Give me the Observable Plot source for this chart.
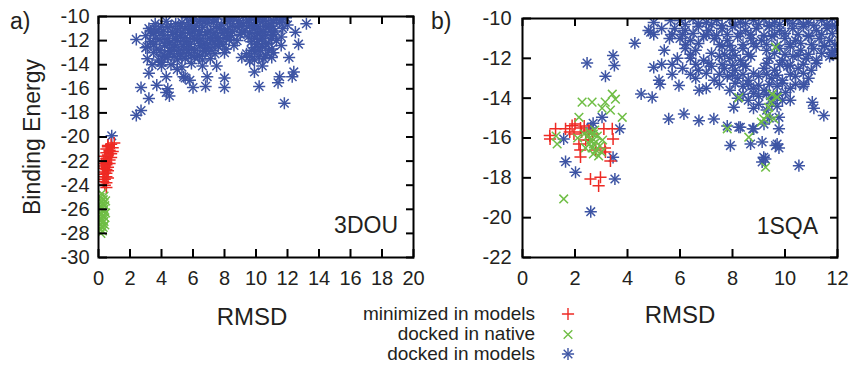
<!DOCTYPE html>
<html><head><meta charset="utf-8">
<script src="https://cdn.jsdelivr.net/npm/d3@7"></script>
<script src="https://cdn.jsdelivr.net/npm/@observablehq/plot@0.6"></script>
<style>
body{margin:0;background:#fff;}
#wrap{position:relative;width:852px;height:369px;font-family:"Liberation Sans",Arial,sans-serif;color:#231f20;}
#wrap > svg{position:absolute;top:0;}
.t{position:absolute;white-space:nowrap;line-height:1;}
</style></head><body><div id="wrap"></div>
<script>
const RED = "#ee2a24", GREEN = "#6fbe45", BLUE = "#3d54a4", INK = "#231f20";

// ---- panel a) 3DOU ----
const aXTicks = [0,2,4,6,8,10,12,14,16,18,20];
const aYTicks = [-30,-28,-26,-24,-22,-20,-18,-16,-14,-12,-10];
const aRed = [[1.0,-20.5],[0.8,-20.6],[0.6,-20.7],[0.9,-20.9],[0.5,-21.0],[0.7,-21.1],[0.9,-21.2],[0.5,-21.3],[0.8,-21.4],[0.6,-21.5],[0.4,-21.6],[0.8,-21.7],[0.5,-21.8],[0.7,-21.9],[0.3,-22.0],[0.5,-22.1],[0.7,-22.2],[0.5,-22.3],[0.4,-22.4],[0.6,-22.5],[0.3,-22.6],[0.5,-22.7],[0.6,-22.8],[0.4,-22.9],[0.5,-23.0],[0.3,-23.1],[0.5,-23.3],[0.6,-23.4],[0.4,-23.5],[0.3,-23.7],[0.5,-23.8],[0.4,-24.0],[0.5,-24.2],[0.2,-22.2],[0.7,-21.2],[0.6,-20.8],[0.3,-23.3]];
const aGreen = [[0.2,-24.7],[0.35,-24.9],[0.1,-25.0],[0.3,-25.2],[0.45,-25.3],[0.15,-25.4],[0.3,-25.5],[0.05,-25.6],[0.4,-25.7],[0.2,-25.8],[0.1,-25.9],[0.35,-26.0],[0.25,-26.1],[0.0,-26.2],[0.45,-26.3],[0.15,-26.4],[0.3,-26.5],[0.05,-26.6],[0.4,-26.7],[0.2,-26.8],[0.1,-26.9],[0.35,-27.0],[0.25,-27.1],[0.1,-27.2],[0.4,-27.3],[0.2,-27.4],[0.3,-27.5],[0.1,-27.6],[0.25,-27.8],[0.15,-28.0]];
const aBlue = [[0.84,-19.9],[2.4,-11.9],[2.4,-18.2],[2.7,-17.8],[3.2,-16.8],[2.7,-15.9],[4.5,-16.6],[4.4,-16.0],[6.0,-15.9],[6.8,-15.8],[8.0,-15.1],[8.0,-15.9],[10.2,-15.8],[11.8,-17.2],[12.1,-13.4],[12.4,-14.6],[12.3,-15.0],[11.5,-15.0],[11.4,-15.5],[12.7,-12.3],[13.2,-10.6],[12.5,-11.3],[9.9,-14.6],[10.4,-14.1],[9.6,-13.7],[7.5,-14.1],[6.9,-15.0],[5.8,-15.3],[5.4,-15.0],[5.0,-14.4],[4.0,-14.1],[3.7,-15.7],[4.3,-16.3],[3.1,-13.5],[3.4,-14.0],[4.0,-13.8],[4.3,-15.0],[3.2,-14.7],[5.5,-15.1],[3.0,-12.6],[3.3,-11.2],
[5.6,-10.1],[6.1,-10.0],[6.5,-10.2],[7.0,-10.1],[7.6,-10.0],[8.1,-10.2],[8.6,-10.1],[9.2,-10.0],[9.7,-10.2],[10.2,-10.1],[10.8,-10.0],[11.3,-10.2],[11.9,-10.1],
[3.6,-10.6],[4.3,-10.4],[4.9,-10.6],[5.3,-10.5],[5.9,-10.7],[6.4,-10.4],[6.9,-10.6],[7.3,-10.5],[7.8,-10.7],[8.3,-10.4],[8.9,-10.6],[9.4,-10.5],[9.9,-10.7],[10.4,-10.4],[10.9,-10.6],[11.5,-10.5],[12.0,-10.7],
[3.2,-11.0],[3.8,-11.1],[4.4,-10.9],[5.0,-11.2],[5.5,-11.0],[6.1,-11.1],[6.6,-10.9],[7.1,-11.2],[7.7,-11.0],[8.2,-11.1],[8.8,-10.9],[9.3,-11.2],[9.8,-11.0],[10.3,-11.1],[10.8,-10.9],[11.2,-11.2],[11.7,-11.0],
[3.0,-11.6],[3.5,-11.4],[4.1,-11.6],[4.7,-11.5],[5.2,-11.7],[5.8,-11.4],[6.3,-11.6],[6.8,-11.5],[7.4,-11.7],[7.9,-11.4],[8.4,-11.6],[9.0,-11.5],[9.5,-11.7],[10.1,-11.4],[10.6,-11.6],[11.1,-11.5],[11.6,-11.7],
[3.3,-12.1],[3.9,-11.9],[4.5,-12.2],[5.0,-12.0],[5.6,-12.1],[6.1,-11.9],[6.7,-12.2],[7.2,-12.0],[7.7,-12.1],[8.3,-11.9],[9.7,-12.1],[10.2,-11.9],[10.8,-12.2],[11.3,-12.0],[8.8,-12.0],
[3.1,-12.5],[3.7,-12.7],[4.2,-12.4],[4.8,-12.6],[5.4,-12.5],[5.9,-12.7],[6.5,-12.4],[7.0,-12.6],[7.6,-12.5],[8.1,-12.7],[8.6,-12.4],[9.9,-12.6],[10.4,-12.5],[11.0,-12.7],[11.6,-12.4],
[3.5,-13.0],[4.1,-13.2],[4.6,-12.9],[5.2,-13.1],[5.7,-13.0],[6.3,-13.2],[6.8,-12.9],[7.4,-13.1],[8.0,-13.0],[9.4,-13.1],[10.0,-12.9],[10.6,-13.2],[11.1,-13.0],
[3.8,-13.6],[4.4,-13.4],[5.0,-13.6],[5.5,-13.5],[6.1,-13.4],[6.6,-13.6],[7.1,-13.5],[9.1,-13.4],[9.9,-13.6],[10.5,-13.5],[11.0,-13.4],
[4.6,-14.0],[5.3,-14.2],[5.9,-13.9],[6.6,-14.1],
[5.9,-10.3],[6.8,-10.3],[7.3,-10.25],[8.4,-10.3],[8.9,-10.35],[9.5,-10.3],[10.0,-10.25],[10.5,-10.3],[11.1,-10.35],[11.6,-10.3],
[4.0,-10.8],[4.6,-10.8],[5.2,-10.85],[5.7,-10.8],[6.2,-10.75],[7.5,-10.8],[8.5,-10.85],[9.1,-10.8],[9.6,-10.75],[10.1,-10.8],[10.6,-10.85],[11.0,-10.8],
[3.5,-11.3],[4.1,-11.25],[4.7,-11.3],[5.3,-11.35],[5.8,-11.3],[6.4,-11.25],[6.9,-11.3],[7.4,-11.35],[8.0,-11.3],[8.5,-11.25],[9.1,-11.3],[9.6,-11.35],[10.0,-11.3],[10.5,-11.25],[11.0,-11.3],
[3.6,-11.8],[4.4,-11.85],[4.9,-11.8],[5.5,-11.75],[6.0,-11.8],[6.5,-11.85],[7.1,-11.8],[7.6,-11.75],[8.1,-11.8],[9.9,-11.8],[10.4,-11.85],[11.0,-11.8],
[3.5,-12.3],[4.2,-12.25],[4.8,-12.3],[5.3,-12.35],[5.8,-12.3],[6.4,-12.25],[6.9,-12.3],[7.4,-12.35],[7.9,-12.3],[10.1,-12.3],[10.6,-12.25],
[3.9,-12.8],[4.5,-12.85],[5.1,-12.8],[5.6,-12.75],[6.1,-12.8],[6.7,-12.85],[7.2,-12.8],[9.7,-12.8],[10.3,-12.85],[10.8,-12.8],
[4.2,-13.3],[4.8,-13.35],[5.3,-13.3],[5.9,-13.25],[6.4,-13.3],[9.6,-13.3],[10.2,-13.35]];

// ---- panel b) 1SQA ----
const bXTicks = [0,2,4,6,8,10,12];
const bYTicks = [-22,-20,-18,-16,-14,-12,-10];
const bRed = [[1.04,-15.88],[1.05,-16.05],[1.26,-15.54],[1.64,-15.54],[1.89,-15.38],[1.96,-15.8],[2.21,-15.5],[2.25,-15.7],[2.15,-16.3],[2.2,-16.6],[2.21,-16.95],[2.53,-15.6],[2.53,-16.1],[2.66,-15.8],[3.1,-15.54],[3.42,-15.54],[3.45,-16.05],[3.14,-16.5],[3.16,-16.7],[3.35,-17.15],[2.59,-18.06],[2.97,-17.97],[2.9,-18.4],[2.79,-16.6],[2.41,-16.1],[1.8,-15.7],[2.0,-15.3],[2.35,-15.4]];
const bGreen = [[1.57,-19.06],[1.32,-16.3],[1.28,-15.9],[2.15,-14.96],[2.27,-14.2],[2.65,-14.2],[3.15,-14.2],[3.42,-13.8],[3.54,-14.05],[3.35,-14.6],[3.03,-14.5],[3.8,-14.96],[2.1,-16.0],[2.5,-15.9],[2.7,-16.3],[2.4,-16.5],[2.55,-15.7],[2.7,-15.8],[2.85,-15.9],[2.6,-16.1],[2.8,-16.2],[2.95,-16.4],[2.65,-16.5],[2.8,-16.6],[3.0,-16.7],[2.7,-16.8],[2.9,-16.9],[2.55,-16.3],[3.05,-16.1],[2.75,-15.6],[2.35,-15.8],
[9.51,-13.8],[9.7,-13.95],[9.38,-14.46],[9.33,-14.87],[9.19,-15.04],[9.58,-15.04],[8.62,-15.96],[9.26,-17.47],[9.64,-11.44],[7.8,-15.54],[8.24,-13.97],[9.45,-14.2],[9.1,-15.2]];
const bBlue = [[1.64,-17.19],[1.57,-16.05],[2.02,-17.72],[2.46,-12.24],[3.16,-12.9],[3.45,-11.86],[3.5,-12.36],[3.03,-14.96],[2.69,-15.26],[2.6,-15.5],[3.7,-15.54],[3.45,-16.97],[3.52,-18.06],[2.6,-19.7],[4.28,-11.24],[4.52,-13.79],[4.94,-13.96],[5.2,-13.1],[4.88,-10.69],[4.8,-10.6],[5.0,-10.8],[5.0,-12.45],[5.24,-13.3],[5.3,-12.3],[5.57,-15.04],[5.7,-12.3],[5.64,-10.1],[5.7,-10.8],[5.96,-13.37],[6.15,-14.79],[6.72,-15.13],[6.73,-13.6],[7.29,-15.04],[7.8,-15.4],[8.24,-15.46],[7.92,-16.38],[8.05,-14.46],[8.69,-16.3],[8.77,-15.54],[9.13,-16.2],[9.19,-16.97],[9.13,-17.2],[9.25,-17.05],[9.7,-16.3],[9.77,-16.5],[10.53,-17.39],[9.77,-15.54],[9.77,-14.96],[11.04,-14.2],[11.1,-14.5],[11.48,-14.87],[10.72,-13.3],[10.02,-13.72],[11.8,-11.7],[11.8,-10.35],[9.64,-16.38],[8.81,-15.54],[8.3,-15.46],[10.2,-14.1],[10.7,-13.4],
[6.0,-10.1],[6.5,-10.0],[7.0,-10.2],[7.4,-10.1],[7.9,-10.0],[8.3,-10.2],[8.8,-10.1],[9.2,-10.0],[9.6,-10.2],[10.1,-10.1],[10.5,-10.0],[10.9,-10.2],[11.4,-10.1],[11.8,-10.0],
[5.8,-10.5],[6.2,-10.6],[6.7,-10.4],[7.1,-10.6],[7.6,-10.5],[8.0,-10.4],[8.5,-10.6],[8.9,-10.5],[9.4,-10.4],[9.8,-10.6],[10.3,-10.5],[10.7,-10.4],[11.2,-10.6],[11.6,-10.5],[11.95,-10.4],
[6.0,-11.0],[6.4,-11.1],[6.9,-10.9],[7.3,-11.0],[7.8,-11.1],[8.2,-10.9],[8.7,-11.0],[9.1,-11.1],[9.5,-10.9],[10.0,-11.0],[10.4,-11.1],[10.9,-10.9],[11.3,-11.0],[11.7,-11.1],
[6.2,-11.5],[6.6,-11.6],[7.6,-11.4],[8.0,-11.6],[8.4,-11.5],[8.9,-11.4],[9.3,-11.6],[9.8,-11.5],[10.2,-11.4],[10.6,-11.6],[11.1,-11.5],[11.5,-11.4],[11.9,-11.6],
[6.4,-12.0],[6.9,-12.1],[7.5,-11.9],[7.9,-12.0],[8.3,-12.1],[8.7,-11.9],[9.4,-12.0],[9.9,-12.1],[10.3,-11.9],[10.8,-12.0],[11.2,-12.1],[11.7,-11.9],
[6.1,-12.5],[6.7,-12.6],[7.2,-12.4],[7.7,-12.5],[8.1,-12.6],[8.5,-12.4],[9.2,-12.5],[9.6,-12.6],[10.1,-12.4],[10.5,-12.5],[11.0,-12.6],
[6.6,-13.0],[7.3,-13.1],[7.8,-12.9],[8.2,-13.0],[8.6,-13.1],[9.0,-12.9],[9.5,-13.0],[9.9,-13.1],[10.4,-12.9],[10.9,-13.0],
[7.0,-13.5],[7.9,-13.6],[8.4,-13.4],[8.8,-13.5],[9.2,-13.6],[9.7,-13.4],[10.2,-13.5],
[8.2,-14.0],[8.6,-14.1],[9.0,-13.9],[9.5,-14.0],[9.9,-14.1],
[8.8,-14.5],[9.3,-14.6],[9.7,-14.4],[9.4,-15.0],[9.2,-15.3],
[5.0,-10.2],[5.3,-10.5],[5.6,-11.0],[5.4,-11.6],[5.9,-12.0],[5.7,-12.8],
[6.2,-10.3],[6.7,-10.25],[7.2,-10.3],[7.6,-10.35],[8.1,-10.3],[8.5,-10.25],[9.0,-10.3],[9.4,-10.35],[9.8,-10.3],[10.3,-10.25],[10.7,-10.3],[11.1,-10.35],[11.6,-10.3],
[6.1,-10.8],[6.5,-10.75],[7.0,-10.8],[7.4,-10.85],[7.8,-10.8],[8.3,-10.75],[8.7,-10.8],[9.2,-10.85],[9.6,-10.8],[10.0,-10.75],[10.5,-10.8],[10.9,-10.85],[11.4,-10.8],[11.8,-10.75],
[6.2,-11.3],[6.7,-11.25],[7.5,-11.3],[7.9,-11.35],[8.4,-11.3],[8.8,-11.25],[9.3,-11.3],[9.7,-11.35],[10.2,-11.3],[10.6,-11.25],[11.0,-11.3],[11.5,-11.35],[11.9,-11.3],
[6.4,-11.8],[7.2,-11.75],[7.7,-11.8],[8.1,-11.85],[8.6,-11.8],[9.6,-11.75],[10.0,-11.8],[10.5,-11.85],[10.9,-11.8],[11.4,-11.75],[11.8,-11.8],
[6.6,-12.3],[7.1,-12.25],[7.6,-12.3],[8.0,-12.35],[8.4,-12.3],[9.3,-12.25],[9.8,-12.3],[10.2,-12.35],[10.7,-12.3],[11.2,-12.25],
[6.4,-12.8],[7.0,-12.75],[7.5,-12.8],[8.0,-12.85],[8.4,-12.8],[8.8,-12.75],[9.3,-12.8],[9.7,-12.85],[10.2,-12.8],[10.7,-12.75],
[7.5,-13.3],[8.1,-13.25],[8.6,-13.3],[9.0,-13.35],[9.4,-13.3],[9.9,-13.25],[10.4,-13.3],
[8.4,-13.8],[8.8,-13.75],[9.3,-13.8],[9.7,-13.85],[9.0,-14.3],[9.5,-14.25]];

const legendNames = ["minimized in models", "docked in native", "docked in models"];

const wrap = document.getElementById("wrap");

// texts (HTML, placed by baseline)
function addText(str, {x, baseline, size, anchor = "start"}) {
  const d = document.createElement("div");
  d.className = "t";
  d.textContent = str;
  d.style.fontSize = size + "px";
  d.style.top = (baseline - 0.8465 * size) + "px";
  if (anchor === "start") d.style.left = x + "px";
  else if (anchor === "end") d.style.right = (852 - x) + "px";
  else { d.style.left = x + "px"; d.style.transform = "translateX(-50%)"; }
  wrap.appendChild(d);
  return d;
}
addText("a)", {x: 10, baseline: 29, size: 23});
addText("b)", {x: 431, baseline: 29, size: 23});
const be = addText("Binding Energy", {x: 0, baseline: 0, size: 23});
be.style.left = "32px"; be.style.top = "137px"; be.style.transform = "translate(-50%,-50%) rotate(-90deg)";
addText("RMSD", {x: 252, baseline: 325, size: 24, anchor: "middle"});
addText("RMSD", {x: 680, baseline: 323, size: 24, anchor: "middle"});
addText("3DOU", {x: 398, baseline: 233, size: 23, anchor: "end"});
addText("1SQA", {x: 818, baseline: 234, size: 23, anchor: "end"});
const legCols = [RED, GREEN, BLUE];
const legY = [320, 340.5, 360];
legendNames.forEach((name, i) => addText(name, {x: 535, baseline: legY[i], size: 19, anchor: "end"}));
const leg = d3.select(wrap).append("svg").attr("width", 24).attr("height", 66)
  .style("left", "556px").style("top", "300px");
legendNames.forEach((name, i) => {
  const g = leg.append("g").attr("transform", `translate(12,${legY[i] - 6 - 300})`).attr("fill", "none").attr("stroke", legCols[i]).attr("stroke-width", 1.4);
  const size = Math.PI * 16;
  if (i !== 1) g.append("path").attr("d", d3.symbol(d3.symbolPlus, size)());
  if (i !== 0) g.append("path").attr("d", d3.symbol(d3.symbolTimes, size)());
});

const baseStyle = {fontFamily: "'Liberation Sans', Arial, sans-serif", fontSize: "20px", color: INK, background: "transparent", overflow: "visible"};

// data layer: points only
function dataLayer({red, green, blue, xDomain, yDomain, width, height, ml, mr, mt, mb}) {
  const dotOpts = {x: d => d[0], y: d => d[1], fill: "none", r: 4, strokeWidth: 1.5, clip: true};
  return Plot.plot({
    width, height, marginLeft: ml, marginRight: mr, marginTop: mt, marginBottom: mb, style: baseStyle,
    x: {domain: xDomain, axis: null},
    y: {domain: yDomain, axis: null},
    marks: [
      Plot.dot(blue, {...dotOpts, symbol: "plus", stroke: BLUE}),
      Plot.dot(blue, {...dotOpts, symbol: "times", stroke: BLUE}),
      Plot.dot(red, {...dotOpts, symbol: "plus", stroke: RED}),
      Plot.dot(green, {...dotOpts, symbol: "times", stroke: GREEN})
    ]
  });
}
// axis layer: frame, inward ticks on all four sides (bottom/right anchored, shifted across), tick labels
function axisLayer({xDomain, yDomain, xTicks, yTicks, width, height, ml, mr, mt, mb, padY}) {
  const innerW = width - ml - mr, innerH = height - mt - mb;
  const fmt = d => String(d);
  const blank = () => "";
  return Plot.plot({
    width, height, marginLeft: ml, marginRight: mr, marginTop: mt, marginBottom: mb, style: baseStyle,
    x: {domain: xDomain, label: null},
    y: {domain: yDomain, label: null},
    marks: [
      Plot.frame({stroke: "#000", strokeWidth: 2}),
      Plot.axisX({ticks: xTicks, anchor: "bottom", tickSize: -8, tickFormat: blank, strokeWidth: 2, stroke: "#000", label: null}),
      Plot.axisX({ticks: xTicks, anchor: "bottom", tickSize: 8, dy: -innerH, tickFormat: blank, strokeWidth: 2, stroke: "#000", label: null}),
      Plot.axisY({ticks: yTicks, anchor: "right", tickSize: -8, tickFormat: blank, strokeWidth: 2, stroke: "#000", label: null}),
      Plot.axisY({ticks: yTicks, anchor: "right", tickSize: 8, dx: -innerW, tickFormat: blank, strokeWidth: 2, stroke: "#000", label: null}),
      Plot.axisX({ticks: xTicks, anchor: "bottom", tickSize: 0, tickPadding: 13, tickFormat: fmt, fill: INK, label: null}),
      Plot.axisY({ticks: yTicks, anchor: "left", tickSize: 0, tickPadding: padY, tickFormat: fmt, fill: INK, label: null})
    ]
  });
}

const cfgA = {red: aRed, green: aGreen, blue: aBlue, xDomain: [0, 20], yDomain: [-30, -10], xTicks: aXTicks, yTicks: aYTicks,
  width: 430, height: 300, ml: 98, mr: 17, mt: 16, mb: 43, padY: 9, left: 0};
const cfgB = {red: bRed, green: bGreen, blue: bBlue, xDomain: [0, 12], yDomain: [-22, -10], xTicks: bXTicks, yTicks: bYTicks,
  width: 422, height: 300, ml: 92, mr: 15, mt: 18, mb: 43, padY: 11, left: 430};
for (const cfg of [cfgA, cfgB]) {
  const d = dataLayer(cfg);
  d.style.left = cfg.left + "px";
  wrap.appendChild(d);
  const a = axisLayer(cfg);
  a.style.left = cfg.left + "px";
  wrap.appendChild(a);
}
</script></body></html>
